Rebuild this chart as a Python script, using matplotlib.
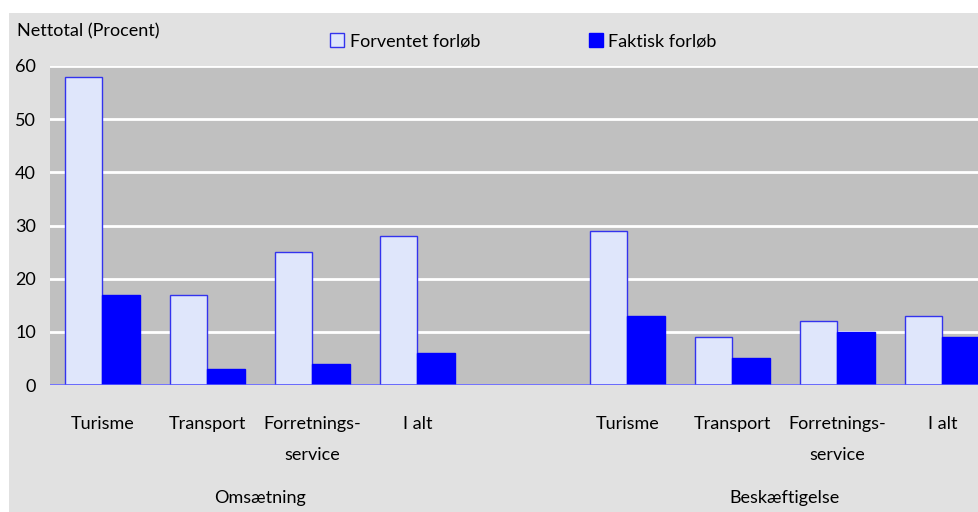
import matplotlib
matplotlib.use("Agg")
import matplotlib.pyplot as plt
from matplotlib.patches import Rectangle
import numpy as np

plt.rcParams['font.family'] = ['Lato', 'DejaVu Sans']

categories = ["Turisme", "Transport", "Forretnings-\nservice", "I alt"]
groups = ["Omsætning", "Beskæftigelse"]
forventet_oms = [58, 17, 25, 28]
faktisk_oms = [17, 3, 4, 6]
forventet_besk = [29, 9, 12, 13]
faktisk_besk = [13, 5, 10, 9]
yticks = [0, 10, 20, 30, 40, 50, 60]

W, H = 979, 512
FS = 13
fig = plt.figure(figsize=(W / 100, H / 100), dpi=100)
fig.patch.set_facecolor('white')
fig.patches.append(Rectangle((9 / W, 0), 1 - 9 / W, (H - 13) / H,
                             transform=fig.transFigure, facecolor='#e1e1e1',
                             edgecolor='none', zorder=-10))

ax = fig.add_axes([50 / W, (H - 385) / H, 1 - 50 / W, (385 - 66) / H])
ax.set_facecolor('#c0c0c0')

pos = np.array([0, 1, 2, 3, 5, 6, 7, 8], dtype=float)
forventet = forventet_oms + forventet_besk
faktisk = faktisk_oms + faktisk_besk
bw = 0.357
ax.bar(pos - bw / 2, forventet, width=bw, color='#dfe6fb', edgecolor='#3333ee',
       linewidth=1, zorder=3, label='Forventet forløb')
ax.bar(pos + bw / 2, faktisk, width=bw, color='#0000ff', edgecolor='#0000ff',
       linewidth=1, zorder=3, label='Faktisk forløb')

ax.set_xlim(-0.5, 8.35)
ax.set_ylim(0, 60)
ax.set_yticks(yticks)
ax.set_yticklabels([str(t) for t in yticks], fontsize=FS)
ax.yaxis.grid(True, color='white', linewidth=2, zorder=1)
ax.set_axisbelow(True)
ax.axhline(0, color='#5a5aff', linewidth=1.2, zorder=4)
for s in ax.spines.values():
    s.set_visible(False)
ax.tick_params(axis='both', length=0)
ax.tick_params(axis='y', pad=10)
ax.set_xticks(pos)
ax.set_xticklabels(categories * 2, fontsize=FS, linespacing=2.15)
ax.tick_params(axis='x', pad=22)

tr = ax.get_xaxis_transform()
ax.text(np.mean(pos[:4]), -0.355, groups[0], transform=tr, ha='center',
        va='center', fontsize=FS)
ax.text(np.mean(pos[4:]), -0.355, groups[1], transform=tr, ha='center',
        va='center', fontsize=FS)

fig.text(17 / W, 1 - 31 / H, "Nettotal (Procent)", ha='left', va='center',
         fontsize=FS)

leg = ax.legend(loc='center left', bbox_to_anchor=(330 / W, 1 - 41 / H),
                bbox_transform=fig.transFigure, ncol=2, frameon=False,
                fontsize=FS, handlelength=0.8, handleheight=0.8,
                handletextpad=0.3, columnspacing=6.0, borderaxespad=0,
                borderpad=0)

fig.savefig('out.png', dpi=100, facecolor=fig.get_facecolor())
